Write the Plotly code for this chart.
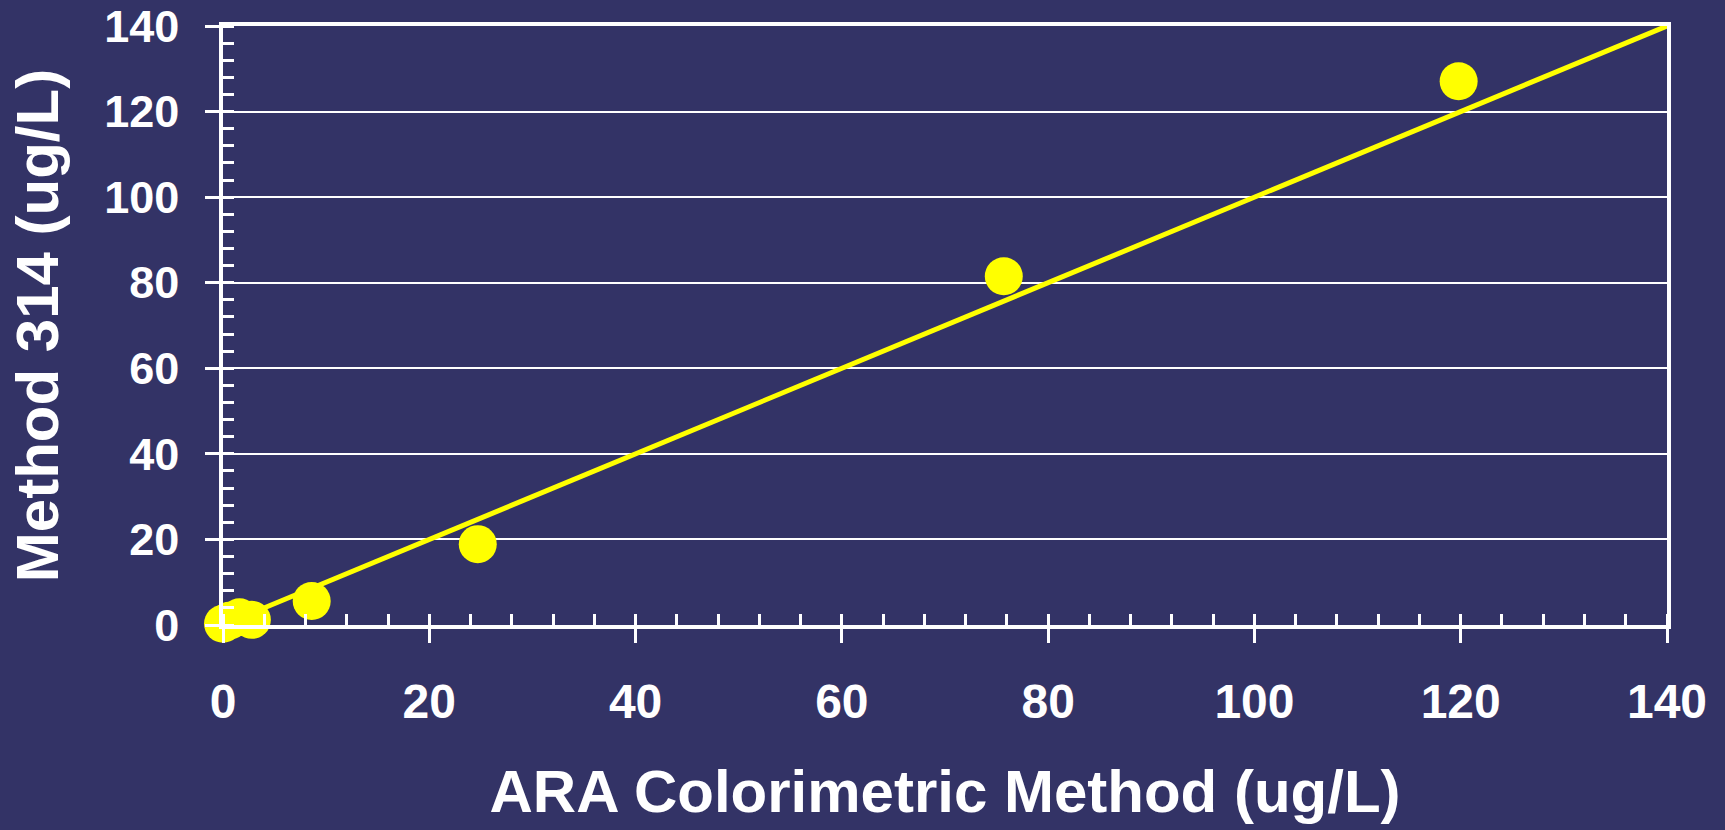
import plotly.graph_objects as go

# Data
ara_x = [0.0, 0.6, 1.6, 2.8, 8.6, 24.7, 75.7, 119.8]
m314_y = [0.3, 1.0, 1.8, 1.2, 5.6, 18.9, 81.5, 127.1]
line_x = [0, 140]
line_y = [0, 140]
tick_vals = [0, 20, 40, 60, 80, 100, 120, 140]

BG = "#333366"
YEL = "#FFFF00"
FONT = "Liberation Sans, Arial, sans-serif"

fig = go.Figure()
fig.add_trace(go.Scatter(x=line_x, y=line_y, mode="lines",
                         line=dict(color=YEL, width=5), cliponaxis=False,
                         showlegend=False, hoverinfo="skip"))
fig.add_trace(go.Scatter(x=ara_x, y=m314_y, mode="markers",
                         marker=dict(color=YEL, size=38, line=dict(width=0)),
                         cliponaxis=False, showlegend=False))

common = dict(
    range=[0, 140], tickvals=tick_vals, ticks="outside", ticklen=14,
    tickwidth=2.5, tickcolor="white", showline=True, linewidth=3.5,
    linecolor="white", mirror=True, zeroline=False, automargin=False,
    minor=dict(ticks="inside", dtick=4, tick0=0, ticklen=11, tickwidth=2.5,
               tickcolor="white", showgrid=False),
)

fig.update_xaxes(**common, showgrid=False,
                 tickfont=dict(family=FONT, size=48, color="white", weight="bold"),
                 ticklabelstandoff=18,
                 title=dict(text="ARA Colorimetric Method (ug/L)",
                            font=dict(family=FONT, size=60, color="white", weight="bold"),
                            standoff=44))
fig.update_yaxes(**common, showgrid=True, gridcolor="white", gridwidth=1.5,
                 tickfont=dict(family=FONT, size=45, color="white", weight="bold"),
                 ticklabelstandoff=17,
                 title=dict(text="Method 314 (ug/L)",
                            font=dict(family=FONT, size=60, color="white", weight="bold"),
                            standoff=27))

fig.update_layout(
    width=1725, height=830,
    paper_bgcolor=BG, plot_bgcolor=BG,
    margin=dict(l=223, r=58, t=26, b=205),
    font=dict(family=FONT, color="white"),
)

fig.write_html("out.html", config={"displayModeBar": False},
               post_script="document.body.style.margin='0';document.body.style.background='#333366';")
